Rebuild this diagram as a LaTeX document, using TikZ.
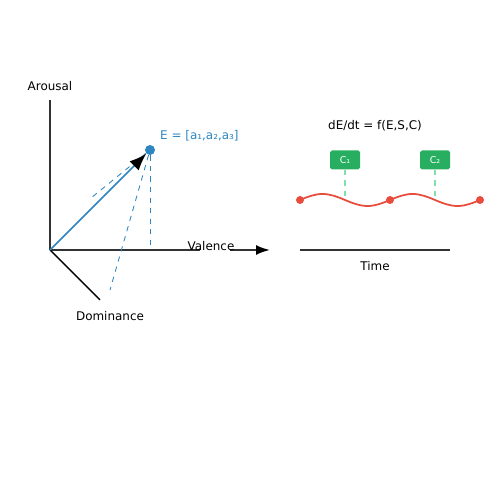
\documentclass[tikz,border=0pt]{standalone}
\usepackage{fontspec}
\setmainfont{DejaVu Sans}
\usetikzlibrary{arrows.meta}
\definecolor{vecblue}{RGB}{46, 134, 193}
\definecolor{wavered}{RGB}{231, 76, 60}
\definecolor{ctxgreen}{RGB}{39, 174, 96}
\definecolor{lightgreen}{RGB}{130, 224, 170}
\definecolor{axisgray}{RGB}{51, 51, 51}

\begin{document}
\begin{tikzpicture}[font=\fontsize{6.8}{8}\selectfont,
    ctxbox/.style={fill=ctxgreen, rounded corners=1pt, minimum width=0.6cm, minimum height=0.38cm, inner sep=0pt, text=white, font=\fontsize{5.4}{6}\selectfont}]
        \useasboundingbox (0, 0) rectangle (10, 10);
        \coordinate (O) at (1, 5);
        \coordinate (atop) at (1, 8);
        \coordinate (vend) at (4, 5);
        \coordinate (dend) at (2, 4);
        \coordinate (vfrom) at (4.6, 5);
        \coordinate (vto) at (5.4, 5);
        \coordinate (proj) at (3, 5);
        \coordinate (dproj) at (2.2, 4.2);
        \coordinate (aproj) at (1.82, 6.04);
        \draw[axisgray, line width = 1.1pt] (O) -- (atop);
        \draw[axisgray, line width = 1.1pt] (O) -- (vend);
        \draw[black, line width = 0.8pt] (O) -- (dend);
        \draw[-{Latex[length=0.28cm, width=0.2cm, color=black]}, axisgray, line width = 1.1pt] (vfrom) -- (vto);
        \node (arousal) at (1, 8.28) {Arousal};
        \node (dominance) at (2.2, 3.68) {Dominance};
        \node (valence) at (4.22, 5.08) {Valence};
        \node[circle, fill=vecblue, inner sep=0pt, minimum size=0.2cm] (E) at (3, 7) {};
        \node[anchor=west, text=vecblue] (elabel) at (3.08, 7.28) {E = [a₁,a₂,a₃]};
        \draw[vecblue, dashed, line width = 0.5pt] (E) -- (proj);
        \draw[vecblue, dashed, line width = 0.5pt] (E) -- (dproj);
        \draw[vecblue, dashed, line width = 0.5pt] (E) -- (aproj);
        \draw[-{Latex[length=0.34cm, width=0.26cm, color=black]}, vecblue, line width = 1pt] (O) -- (E);
        \node (dedt) at (7.5, 7.48) {dE/dt = f(E,S,C)};
        \coordinate (t0) at (6, 5);
        \coordinate (t1) at (9, 5);
        \draw[axisgray, line width = 1.1pt] (t0) -- (t1);
        \node (time) at (7.5, 4.68) {Time};
        \draw[wavered, line width = 1pt] (6, 6) sin (6.45, 6.12) cos (6.9, 6) sin (7.35, 5.88) cos (7.8, 6)
            sin (8.25, 6.12) cos (8.7, 6) sin (9.15, 5.88) cos (9.6, 6);
        \node[circle, fill=wavered, inner sep=0pt, minimum size=0.16cm] (s0) at (6, 6) {};
        \node[circle, fill=wavered, inner sep=0pt, minimum size=0.16cm] (s1) at (7.8, 6) {};
        \node[circle, fill=wavered, inner sep=0pt, minimum size=0.16cm] (s2) at (9.6, 6) {};
        \coordinate (w1) at (6.9, 6);
        \coordinate (w2) at (8.7, 6);
        \node[ctxbox] (c1) at (6.9, 6.8) {C₁};
        \node[ctxbox] (c2) at (8.7, 6.8) {C₂};
        \draw[lightgreen, dashed, line width = 0.7pt] (c1) -- (w1);
        \draw[lightgreen, dashed, line width = 0.7pt] (c2) -- (w2);
      \end{tikzpicture}
\end{document}
